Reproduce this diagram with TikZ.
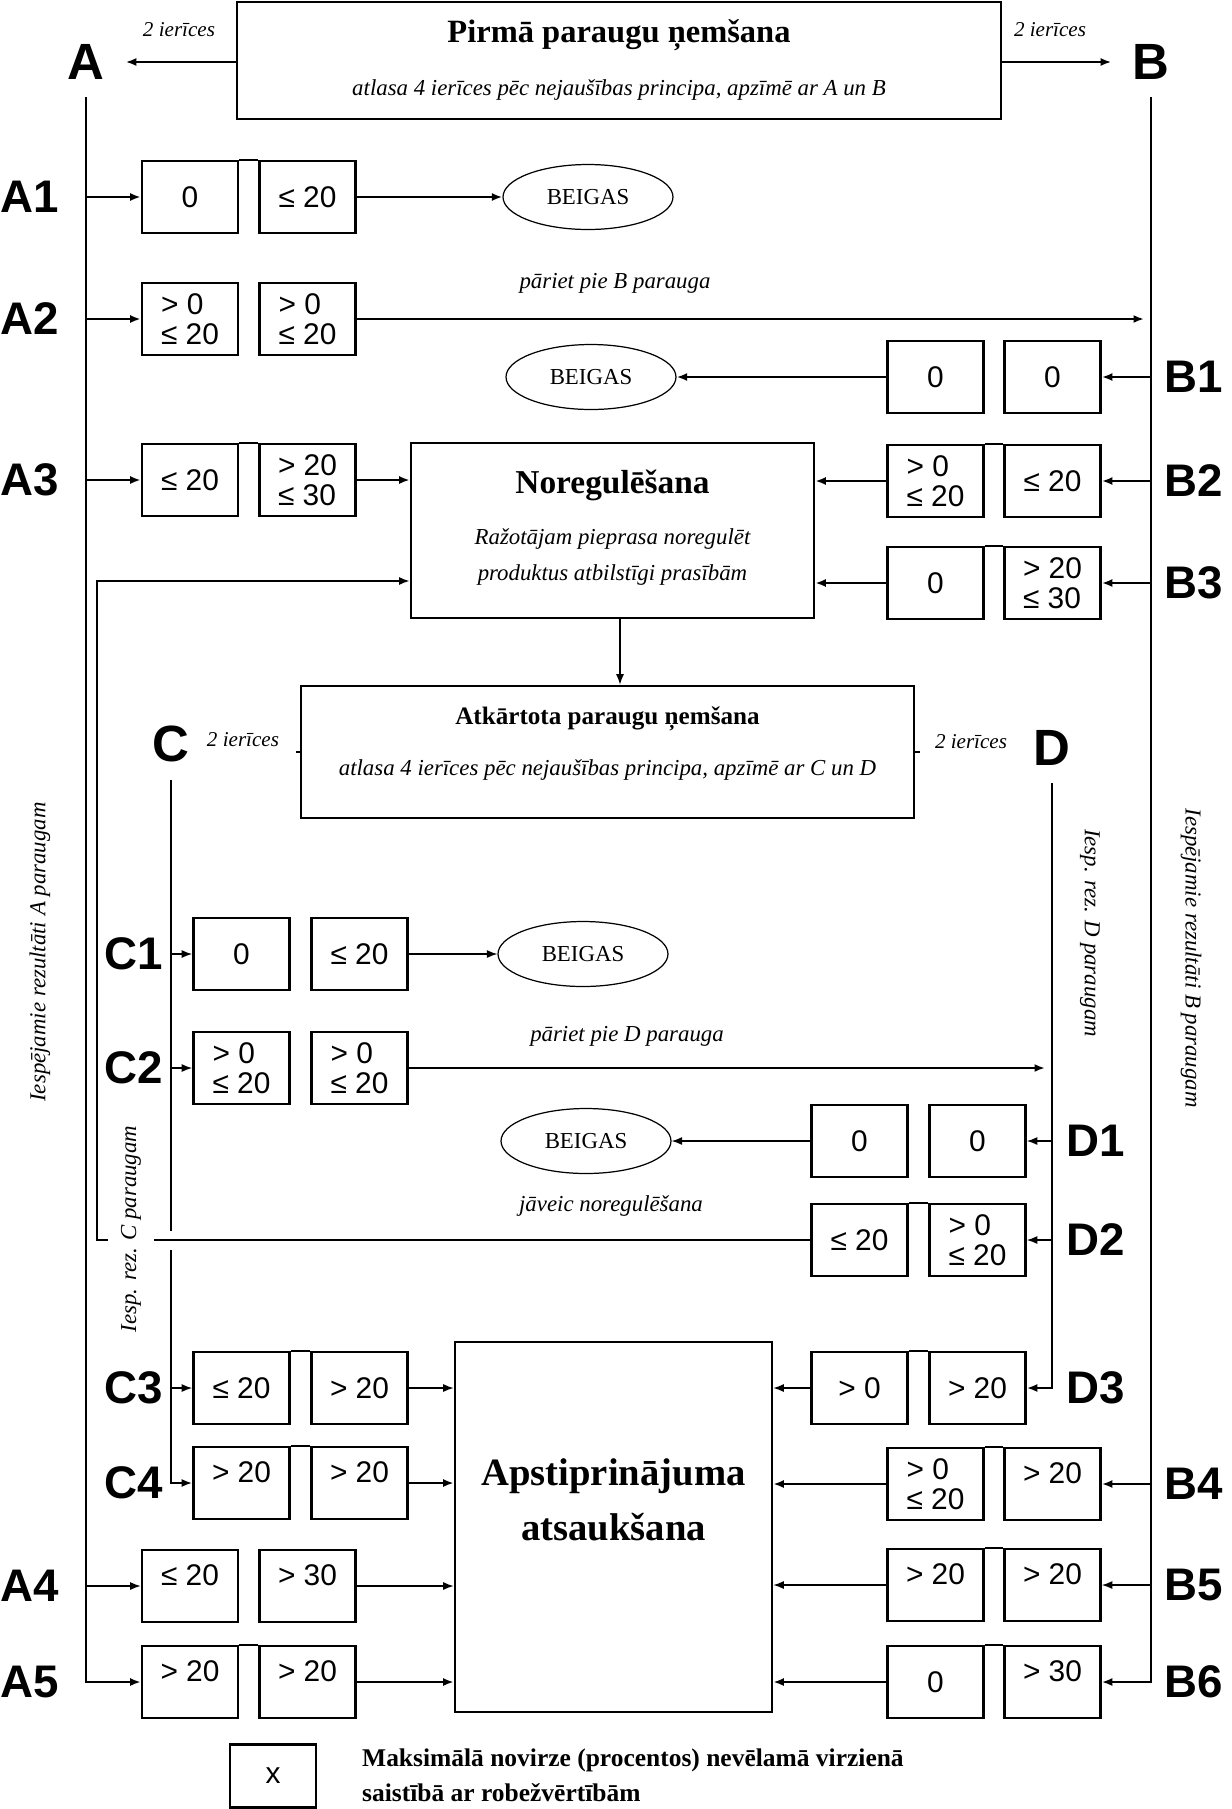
\documentclass[tikz,border=0pt]{standalone}
\usepackage{fontspec}
\setmainfont{Liberation Serif}
\newfontfamily\sansf{Liberation Sans}
\usetikzlibrary{shapes.geometric, arrows.meta}

\tikzset{
  valbox/.style={draw, line width=1.5pt, minimum width=1.92cm, minimum height=1.44cm,
    inner sep=0pt, align=left, font=\sansf\fontsize{17}{17}\selectfont},
  hi/.style={text depth=0.42cm},
  rowlbl/.style={font=\sansf\bfseries\fontsize{26}{26}\selectfont},
  letter/.style={font=\sansf\bfseries\fontsize{29}{29}\selectfont, inner xsep=12pt, inner ysep=10pt},
  endnode/.style={draw, ellipse, line width=0.7pt, minimum width=3.4cm, minimum height=1.3cm,
    inner sep=0pt, font=\fontsize{13}{13}\selectfont},
  stage/.style={draw, line width=1.5pt},
  note/.style={font=\itshape\fontsize{13}{13}\selectfont},
  spine/.style={line width=1.1pt},
  lnk/.style={->, line width=0.8pt},
  lnkb/.style={->, line width=1.6pt}
}

\begin{document}
\begin{tikzpicture}[x=0.02cm, y=-0.02cm, >={Latex[length=2.1mm,width=1.6mm]}]

    \path[use as bounding box, fill=white] (0,0) rectangle (1231,1809);

    % 1. Pirmā paraugu ņemšana
    \node[stage, minimum width=15.28cm, minimum height=2.34cm] (first) at (619,60.5) {};
    \node[font=\bfseries\fontsize{18.5}{19}\selectfont] (firstT) at (619,35) {Pirmā paraugu ņemšana};
    \node[note] (firstS) at (619,90) {atlasa 4 ierīces pēc nejaušības principa, apzīmē ar A un B};

    \node[letter] (A) at (86,62) {A};
    \node[letter] (B) at (1151,62) {B};
    \node[note, font=\itshape\fontsize{12}{12}\selectfont] (twoA) at (179,30) {2 ierīces};
    \node[note, font=\itshape\fontsize{12}{12}\selectfont] (twoB) at (1050,30) {2 ierīces};
    \draw[->, line width=1.1pt] (first.west |- A) -- (A);
    \draw[->, line width=1.1pt] (first.east |- B) -- (B);

    % 2. Rezultāti A paraugam
    \node[rowlbl] (lA1) at (30,197) {A1};
    \node[valbox] (a11) at (190,197) {0};
    \node[valbox] (a12) at (307.5,197) {≤ 20};
    \node[endnode] (endA) at (588,197) {BEIGAS};

    \node[rowlbl] (lA2) at (30,319) {A2};
    \node[valbox] (a21) at (190,319) {> 0\\≤ 20};
    \node[valbox] (a22) at (307.5,319) {> 0\\≤ 20};
    \node[note] (toB) at (615,283) {pāriet pie B parauga};

    \node[rowlbl] (lA3) at (30,480) {A3};
    \node[valbox] (a31) at (190,480) {≤ 20};
    \node[valbox] (a32) at (307.5,480) {> 20\\≤ 30};

    \node[rowlbl] (lA4) at (30,1586) {A4};
    \node[valbox, hi] (a41) at (190,1586) {≤ 20};
    \node[valbox, hi] (a42) at (307.5,1586) {> 30};

    \node[rowlbl] (lA5) at (30,1682) {A5};
    \node[valbox, hi] (a51) at (190,1682) {> 20};
    \node[valbox, hi] (a52) at (307.5,1682) {> 20};

    % 3. Rezultāti B paraugam
    \node[rowlbl] (lB1) at (1194,377) {B1};
    \node[valbox] (b11) at (935.5,377) {0};
    \node[valbox] (b12) at (1052.5,377) {0};
    \node[endnode] (endB) at (591,377) {BEIGAS};

    \node[rowlbl] (lB2) at (1194,481) {B2};
    \node[valbox] (b21) at (935.5,481) {> 0\\≤ 20};
    \node[valbox] (b22) at (1052.5,481) {≤ 20};

    \node[rowlbl] (lB3) at (1194,583) {B3};
    \node[valbox] (b31) at (935.5,583) {0};
    \node[valbox] (b32) at (1052.5,583) {> 20\\≤ 30};

    \node[rowlbl] (lB4) at (1194,1484) {B4};
    \node[valbox] (b41) at (935.5,1484) {> 0\\≤ 20};
    \node[valbox, hi] (b42) at (1052.5,1484) {> 20};

    \node[rowlbl] (lB5) at (1194,1585) {B5};
    \node[valbox, hi] (b51) at (935.5,1585) {> 20};
    \node[valbox, hi] (b52) at (1052.5,1585) {> 20};

    \node[rowlbl] (lB6) at (1194,1682) {B6};
    \node[valbox] (b61) at (935.5,1682) {0};
    \node[valbox, hi] (b62) at (1052.5,1682) {> 30};

    % 4. Noregulēšana
    \node[stage, minimum width=8.06cm, minimum height=3.5cm] (noreg) at (612.5,530.5) {};
    \node[font=\bfseries\fontsize{19}{19}\selectfont] (noregT) at (612.5,485) {Noregulēšana};
    \node[note, align=center, font=\itshape\fontsize{13}{20}\selectfont] (noregS) at (612.5,557)
        {Ražotājam pieprasa noregulēt\\produktus atbilstīgi prasībām};

    % 5. Atkārtota paraugu ņemšana
    \node[stage, minimum width=12.26cm, minimum height=2.64cm] (atk) at (607.5,752) {};
    \node[font=\bfseries\fontsize{14.3}{15}\selectfont] (atkT) at (607.5,719) {Atkārtota paraugu ņemšana};
    \node[note] (atkS) at (607.5,770) {atlasa 4 ierīces pēc nejaušības principa, apzīmē ar C un D};

    \node[letter] (C) at (171,744) {C};
    \node[letter] (D) at (1052,748) {D};
    \node[note, font=\itshape\fontsize{12}{12}\selectfont] (twoC) at (243,740) {2 ierīces};
    \node[note, font=\itshape\fontsize{12}{12}\selectfont] (twoD) at (971,742) {2 ierīces};
    \draw[line width=1.5pt] (atk.west) -- ++(-4,0);
    \draw[line width=1.5pt] (atk.east) -- ++(5,0);

    % 6. Rezultāti C un D paraugam
    \node[rowlbl] (lC1) at (134,954) {C1};
    \node[valbox] (c11) at (241.5,954) {0};
    \node[valbox] (c12) at (359.5,954) {≤ 20};
    \node[endnode] (endC) at (583,954) {BEIGAS};

    \node[rowlbl] (lC2) at (134,1068) {C2};
    \node[valbox] (c21) at (241.5,1068) {> 0\\≤ 20};
    \node[valbox] (c22) at (359.5,1068) {> 0\\≤ 20};
    \node[note] (toD) at (627,1036) {pāriet pie D parauga};

    \node[rowlbl] (lC3) at (134,1388) {C3};
    \node[valbox] (c31) at (241.5,1388) {≤ 20};
    \node[valbox] (c32) at (359.5,1388) {> 20};

    \node[rowlbl] (lC4) at (134,1483) {C4};
    \node[valbox, hi] (c41) at (241.5,1483) {> 20};
    \node[valbox, hi] (c42) at (359.5,1483) {> 20};

    \node[rowlbl] (lD1) at (1096,1141) {D1};
    \node[valbox] (d11) at (859.5,1141) {0};
    \node[valbox] (d12) at (977.5,1141) {0};
    \node[endnode] (endD) at (586,1141) {BEIGAS};

    \node[rowlbl] (lD2) at (1096,1240) {D2};
    \node[valbox] (d21) at (859.5,1240) {≤ 20};
    \node[valbox] (d22) at (977.5,1240) {> 0\\≤ 20};
    \node[note] (redo) at (611,1206) {jāveic noregulēšana};

    \node[rowlbl] (lD3) at (1096,1388) {D3};
    \node[valbox] (d31) at (859.5,1388) {> 0};
    \node[valbox] (d32) at (977.5,1388) {> 20};

    % 7. Apstiprinājuma atsaukšana
    \node[stage, minimum width=6.34cm, minimum height=7.4cm] (apst) at (613.5,1527) {};
    \node[align=center, font=\bfseries\fontsize{22}{31}\selectfont] (apstT) at (613.5,1500)
        {Apstiprinājuma\\atsaukšana};

    % 8. Savienojumi
    \draw[line width=1pt] (a11.north east) -- (a12.north west) (a31.north east) -- (a32.north west)
        (a51.north east) -- (a52.north west) (b21.north east) -- (b22.north west)
        (b31.north east) -- (b32.north west) (b41.north east) -- (b42.north west)
        (b51.north east) -- (b52.north west) (b61.north east) -- (b62.north west)
        (c31.north east) -- (c32.north west) (c41.north east) -- (c42.north west)
        (d21.north east) -- (d22.north west) (d31.north east) -- (d32.north west);

    \draw[spine, ->] (A.south) |- (a51);
    \draw[lnkb] (A.south |- a11) -- (a11);
    \draw[lnkb] (A.south |- a21) -- (a21);
    \draw[lnkb] (A.south |- a31) -- (a31);
    \draw[lnk] (A.south |- a41) -- (a41);
    \draw[lnkb] (a12) -- (endA);
    \draw[lnkb, shorten >=0.14cm] (a22) -- (a22 -| B.south);
    \draw[lnkb] (a32) -- (a32 -| noreg.west);
    \draw[lnk] (a42) -- (a42 -| apst.west);
    \draw[lnkb] (a52) -- (a52 -| apst.west);

    \draw[spine, ->] (B.south) |- (b62);
    \draw[lnkb] (B.south |- b12) -- (b12);
    \draw[lnkb] (B.south |- b22) -- (b22);
    \draw[lnkb] (B.south |- b32) -- (b32);
    \draw[lnkb] (B.south |- b42) -- (b42);
    \draw[lnk] (B.south |- b52) -- (b52);
    \draw[lnkb] (b11) -- (endB);
    \draw[lnkb] (b21) -- (b21 -| noreg.east);
    \draw[lnkb] (b31) -- (b31 -| noreg.east);
    \draw[lnkb] (b41) -- (b41 -| apst.east);
    \draw[lnk] (b51) -- (b51 -| apst.east);
    \draw[lnkb] (b61) -- (b61 -| apst.east);

    \draw[lnk] ([xshift=0.15cm]noreg.south) -- ([xshift=0.15cm]noreg.south |- atk.north);

    \draw[spine] (C.south) -- ([yshift=0.18cm]C.south |- d21);
    \draw[spine, ->] ([yshift=-0.2cm]C.south |- d21) |- (c41);
    \draw[lnk] (C.south |- c11) -- (c11);
    \draw[lnk] (C.south |- c21) -- (c21);
    \draw[lnk] (C.south |- c31) -- (c31);
    \draw[lnk] (c12) -- (endC);
    \draw[lnkb, shorten >=0.14cm] (c22) -- (c22 -| D.south);
    \draw[lnk] (c32) -- (c32 -| apst.west);
    \draw[lnkb] (c42) -- (c42 -| apst.west);

    \draw[spine, ->] (D.south) |- (d32);
    \draw[lnk] (D.south |- d12) -- (d12);
    \draw[lnk] (D.south |- d22) -- (d22);
    \draw[lnk] (d11) -- (endD);
    \draw[lnk] (d31) -- (d31 -| apst.east);

    % 9. Atpakaļ uz noregulēšanu
    \coordinate (fbk) at (97,581);
    \draw[->, line width=1.1pt] (d21.west) -| (fbk) -- (fbk -| noreg.west);

    % 10. Paraugu uzraksti
    \node[note, rotate=90] (lblA) at (40,952) {Iespējamie rezultāti A paraugam};
    \node[note, rotate=-90] (lblB) at (1191,958) {Iespējamie rezultāti B paraugam};
    \node[note, rotate=90, fill=white, inner ysep=0.26cm] (lblC) at (131,1229) {Iesp. rez. C paraugam};
    \node[note, rotate=-90] (lblD) at (1090,933) {Iesp. rez. D paraugam};

    % 11. Apzīmējums
    \node[valbox, minimum width=1.72cm, minimum height=1.26cm] (key) at (273,1776) {x};
    \node[anchor=west, align=left, font=\bfseries\fontsize{14.5}{20}\selectfont] (keytext) at (356,1775)
        {Maksimālā novirze (procentos) nevēlamā virzienā\\saistībā ar robežvērtībām};

\end{tikzpicture}
\end{document}
